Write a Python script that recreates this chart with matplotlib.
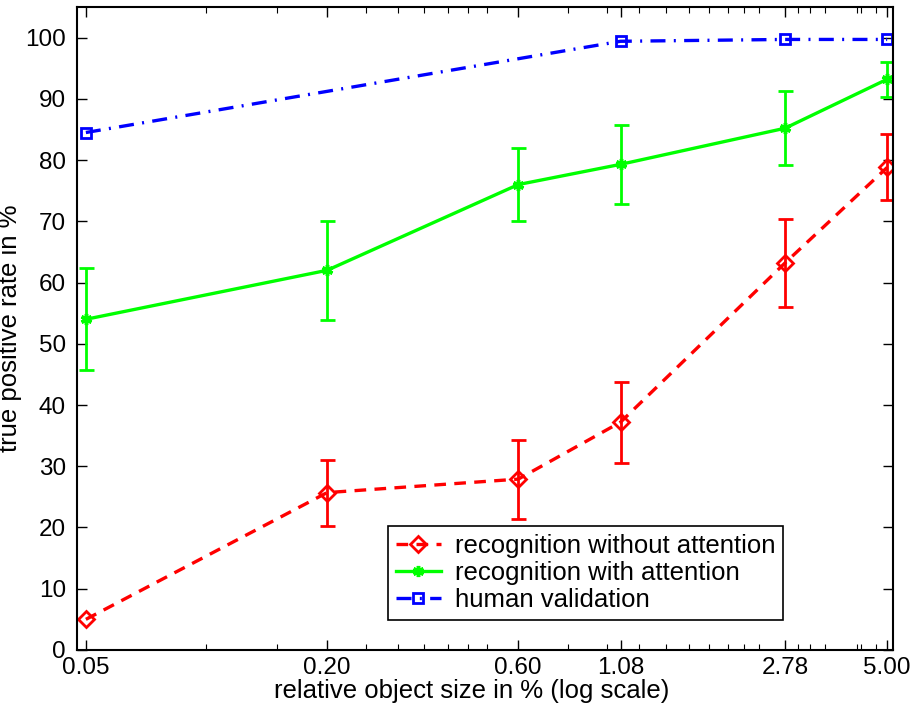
import matplotlib
matplotlib.use("Agg")
import matplotlib.pyplot as plt
import numpy as np

plt.rcParams["font.family"] = ["Liberation Sans", "DejaVu Sans"]

# object size (% of image), log x axis
sizes = [0.05, 0.20, 0.60, 1.08, 2.78, 5.00]
size_labels = ["0.05", "0.20", "0.60", "1.08", "2.78", "5.00"]
minor_sizes = [0.1, 0.15, 0.25, 0.3, 0.35, 0.4, 0.45, 0.5, 0.8, 1.0, 1.2, 1.4,
               1.6, 1.8, 2.0, 2.2, 2.4, 3.0, 3.2, 3.5, 4.2, 4.3, 4.7]

# recognition without attention
no_attn = [5.0, 25.7, 27.9, 37.2, 63.2, 78.8]
no_attn_lo = [np.nan, 20.3, 21.4, 30.6, 56.0, 73.4]
no_attn_hi = [np.nan, 31.1, 34.3, 43.7, 70.3, 84.2]

# recognition with attention
attn = [54.0, 62.0, 76.0, 79.3, 85.2, 93.2]
attn_lo = [45.8, 53.9, 70.1, 72.9, 79.2, 90.3]
attn_hi = [62.4, 70.0, 81.9, 85.8, 91.3, 96.0]

# human validation
human_sizes = [0.05, 1.08, 2.78, 5.00]
human = [84.5, 99.4, 99.7, 99.7]

RED = "#ff0000"
GREEN = "#00ff00"
BLUE = "#0000ff"

fig = plt.figure(figsize=(9.14, 7.13), dpi=100)
ax = fig.add_axes([0.0842, 0.0884, 0.8928, 0.9018])


def err(vals, lo, hi):
    v = np.array(vals)
    return [v - np.array(lo), np.array(hi) - v]


ax.errorbar(sizes, no_attn, yerr=err(no_attn, no_attn_lo, no_attn_hi),
            fmt="none", ecolor=RED, elinewidth=2, capsize=5.4, capthick=2)
ax.errorbar(sizes, attn, yerr=err(attn, attn_lo, attn_hi),
            fmt="none", ecolor=GREEN, elinewidth=2, capsize=5.4, capthick=2)

ax.plot(sizes, no_attn, color=RED, lw=2.4, dashes=(3.5, 2.5),
        marker="D", ms=8, mfc="none", mew=2, label="recognition without attention")
ax.plot(sizes, attn, color=GREEN, lw=2.4, marker=(6, 2, 0), ms=8, mew=2.5,
        label="recognition with attention")
ax.plot(human_sizes, human, color=BLUE, lw=2.4, dashes=(4.5, 2.5, 0.6, 2.5),
        marker="s", ms=7, mfc="none", mew=2, label="human validation")

ax.set_xscale("log")
ax.set_xlim(0.0475, 5.17)
ax.set_ylim(0, 105)
ax.set_xticks(sizes)
ax.set_xticklabels(size_labels)
ax.set_xticks(minor_sizes, minor=True)
ax.set_xticklabels([], minor=True)
ax.set_yticks(range(0, 101, 10))

ax.tick_params(axis="both", which="major", direction="in", top=True, right=True,
               length=7, width=1, labelsize=17.5)
ax.tick_params(axis="x", which="major", pad=5)
ax.tick_params(axis="y", which="major", pad=8)
ax.tick_params(axis="x", which="minor", direction="in", top=True, length=4, width=0.8)
for s in ax.spines.values():
    s.set_linewidth(1.5)

ax.set_xlabel("relative object size in % (log scale)", fontsize=18.5, labelpad=0)
ax.xaxis.set_label_coords(0.484, -0.045)
ax.set_ylabel("true positive rate in %", fontsize=18.5, labelpad=2)

leg = ax.legend(loc="lower left", bbox_to_anchor=(0.381, 0.047), borderaxespad=0,
                fontsize=18.5, fancybox=False, framealpha=1, edgecolor="black",
                handlelength=1.75, handletextpad=0.55, labelspacing=0.12,
                borderpad=0.3)
leg.get_frame().set_linewidth(1.2)

fig.savefig("out.png", dpi=100)
